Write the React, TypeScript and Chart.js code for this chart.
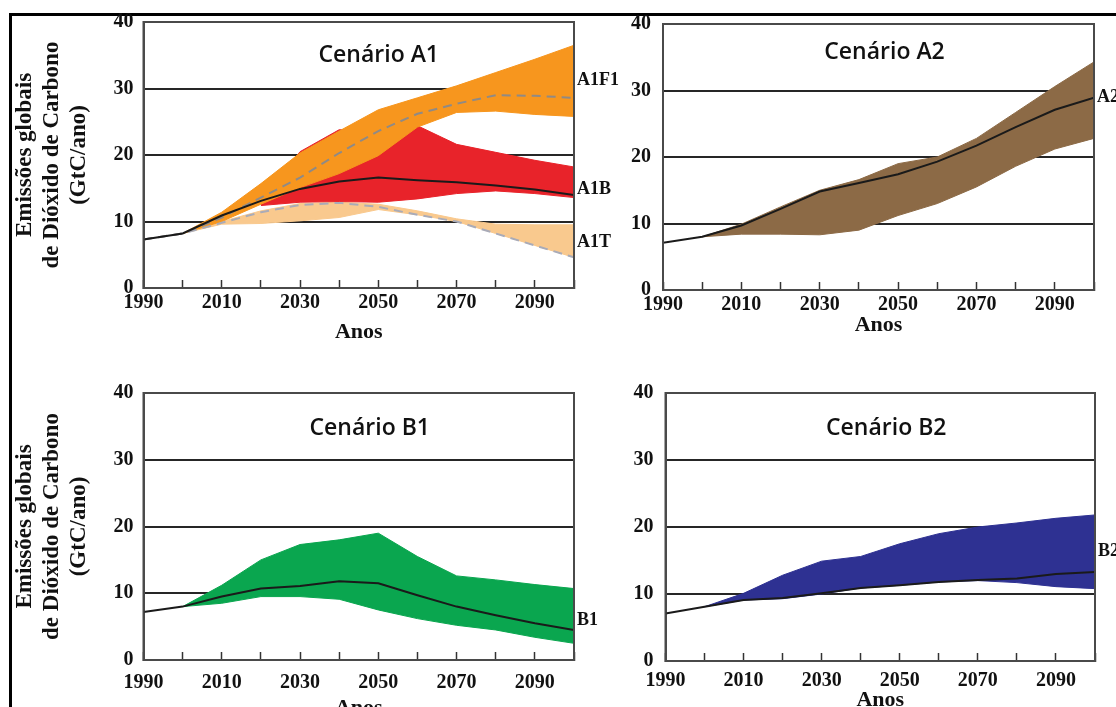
import React, { useEffect, useRef } from 'react';
import { Chart, registerables } from 'chart.js';

Chart.register(...registerables);

// ---------- data ----------
const years = [1990, 2000, 2010, 2020, 2030, 2040, 2050, 2060, 2070, 2080, 2090, 2100];
const yearTickLabels = ['1990', '2010', '2030', '2050', '2070', '2090'];
const yAxisTitle = ['Emissões globais', 'de Dióxido de Carbono', '(GtC/ano)'];
const xAxisTitle = 'Anos';

// Cenário A1
const a1fiUpper = [null, 8.2, 11.4, 15.7, 20.3, 23.6, 26.8, 28.6, 30.4, 32.4, 34.4, 36.5];
const a1fiLower = [null, 8.2, 10.0, 12.6, 15.1, 17.2, 19.9, 24.2, 26.4, 26.6, 26.1, 25.8];
const a1fiMedian = [7.3, 8.2, 10.6, 13.6, 16.6, 20.3, 23.6, 26.2, 27.7, 29.0, 28.9, 28.6];
const a1bUpper = [null, null, null, 12.6, 20.5, 23.8, 23.5, 24.4, 21.6, 20.4, 19.2, 18.2];
const a1bLower = [null, null, null, 12.4, 12.9, 13.0, 12.9, 13.4, 14.2, 14.6, 14.2, 13.6];
const a1bMedian = [7.3, 8.2, 10.9, 13.1, 14.9, 16.0, 16.6, 16.2, 15.9, 15.4, 14.8, 14.0];
const a1tUpper = [null, 8.2, 10.0, 11.6, 12.7, 12.9, 12.6, 11.6, 10.4, 9.6, 9.5, 9.5];
const a1tLower = [null, 8.2, 9.6, 9.7, 10.1, 10.6, 11.8, 11.0, 10.0, 8.2, 6.4, 4.6];
const a1tMedian = [7.3, 8.2, 9.8, 11.4, 12.5, 12.8, 12.2, 11.0, 10.0, 8.2, 6.4, 4.6];
const a1LabelNames = ['A1F1', 'A1B', 'A1T'];
const a1LabelValues = [31.3, 14.9, 6.9];

// Cenário A2
const a2Upper = [null, 8.0, 9.9, 12.5, 15.0, 16.6, 19.0, 20.0, 22.8, 26.7, 30.6, 34.3];
const a2Lower = [null, 8.0, 8.4, 8.4, 8.3, 9.0, 11.2, 13.0, 15.5, 18.6, 21.2, 22.8];
const a2Median = [7.1, 8.0, 9.7, 12.2, 14.8, 16.1, 17.4, 19.3, 21.7, 24.5, 27.1, 28.9];
const a2LabelNames = ['A2'];
const a2LabelValues = [28.9];

// Cenário B1
const b1Upper = [null, 8.0, 11.2, 15.0, 17.3, 18.0, 19.0, 15.5, 12.6, 12.0, 11.3, 10.7];
const b1Lower = [null, 8.0, 8.5, 9.5, 9.5, 9.1, 7.5, 6.2, 5.2, 4.5, 3.4, 2.5];
const b1Median = [7.2, 8.0, 9.5, 10.7, 11.1, 11.8, 11.5, 9.7, 8.0, 6.7, 5.5, 4.5];
const b1LabelNames = ['B1'];
const b1LabelValues = [6.0];

// Cenário B2
const b2Upper = [null, 8.1, 10.1, 12.8, 14.9, 15.6, 17.5, 19.0, 20.0, 20.6, 21.3, 21.8];
const b2Lower = [null, 8.1, 9.1, 9.3, 10.0, 10.9, 11.3, 11.8, 12.0, 11.7, 11.1, 10.8];
const b2Median = [7.1, 8.1, 9.1, 9.4, 10.1, 10.9, 11.3, 11.8, 12.1, 12.3, 13.0, 13.3];
const b2LabelNames = ['B2'];
const b2LabelValues = [16.3];

// ---------- styles ----------
const SERIF = '"Liberation Serif", "Times New Roman", serif';
const SANS = '"Open Sans", "Noto Sans", sans-serif';
const GRID = '#262626';
const BOX = '#4a4a4a';
const TEXT = '#111111';
const ORANGE = '#F7961E';
const RED = '#E8232A';
const TAN = '#F9C98E';
const BROWN = '#8C6A46';
const GREEN = '#0AA64F';
const BLUE = '#2E3192';
const DARK_LINE = '#1a1a1a';

type Val = number | null;

function toPoints(values: Val[]) {
  const pts: { x: number; y: number }[] = [];
  years.forEach((x, i) => {
    const v = values[i];
    if (v !== null && v !== undefined) pts.push({ x, y: v });
  });
  return pts;
}

function band(upper: Val[], lower: Val[], color: string, order: number) {
  return [
    {
      data: toPoints(upper),
      fill: '+1',
      backgroundColor: color,
      borderColor: color,
      borderWidth: 1,
      pointRadius: 0,
      tension: 0,
      order,
    },
    {
      data: toPoints(lower),
      fill: false,
      backgroundColor: color,
      borderColor: color,
      borderWidth: 1,
      pointRadius: 0,
      tension: 0,
      order,
    },
  ];
}

function line(values: Val[], color: string, dash: number[], order: number) {
  return {
    data: toPoints(values),
    fill: false,
    borderColor: color,
    borderWidth: 2,
    borderDash: dash,
    pointRadius: 0,
    tension: 0,
    order,
  };
}

type Panel = {
  key: string;
  left: number;
  top: number;
  width: number;
  height: number;
  yWidth: number;
  padRight: number;
  padTop: number;
  xHeight: number;
  tickPad: number;
  anosPad: number;
  yPad: number;
  yTitle: boolean;
  title: string;
  titleDx: number;
  titleDy: number;
  labelNames: string[];
  labelValues: number[];
  datasets: any[];
};

const panels: Panel[] = [
  {
    key: 'A1', left: 0, top: 0, width: 630, height: 360,
    yWidth: 143.5, padRight: 56, padTop: 20, xHeight: 72,
    tickPad: 11, anosPad: 14.8, yPad: 10, yTitle: true,
    title: 'Cenário A1', titleDx: 20, titleDy: 33,
    labelNames: a1LabelNames, labelValues: a1LabelValues,
    datasets: [
      ...band(a1tUpper, a1tLower, TAN, 10),
      ...band(a1bUpper, a1bLower, RED, 9),
      ...band(a1fiUpper, a1fiLower, ORANGE, 8),
      line(a1tMedian, '#a9abb8', [9, 6], 3),
      line(a1fiMedian, '#8f8a86', [9, 6], 2),
      line(a1bMedian, DARK_LINE, [], 1),
    ],
  },
  {
    key: 'A2', left: 630, top: 0, width: 486, height: 360,
    yWidth: 33, padRight: 22, padTop: 24, xHeight: 70,
    tickPad: 10.5, anosPad: 21.8, yPad: 12, yTitle: false,
    title: 'Cenário A2', titleDx: 6, titleDy: 28,
    labelNames: a2LabelNames, labelValues: a2LabelValues,
    datasets: [
      ...band(a2Upper, a2Lower, BROWN, 8),
      line(a2Median, DARK_LINE, [], 1),
    ],
  },
  {
    key: 'B1', left: 0, top: 360, width: 630, height: 380,
    yWidth: 143.5, padRight: 56, padTop: 33, xHeight: 80,
    tickPad: 19, anosPad: 18.8, yPad: 10, yTitle: true,
    title: 'Cenário B1', titleDx: 11, titleDy: 35,
    labelNames: b1LabelNames, labelValues: b1LabelValues,
    datasets: [
      ...band(b1Upper, b1Lower, GREEN, 8),
      line(b1Median, DARK_LINE, [], 1),
    ],
  },
  {
    key: 'B2', left: 630, top: 360, width: 486, height: 380,
    yWidth: 35, padRight: 21, padTop: 33, xHeight: 79,
    tickPad: 15.5, anosPad: 26.8, yPad: 12, yTitle: false,
    title: 'Cenário B2', titleDx: 6, titleDy: 35,
    labelNames: b2LabelNames, labelValues: b2LabelValues,
    datasets: [
      ...band(b2Upper, b2Lower, BLUE, 8),
      line(b2Median, DARK_LINE, [], 1),
    ],
  },
];

function decorPlugin(p: Panel) {
  return {
    id: 'panelDecor' + p.key,
    afterDraw(chart: any) {
      const { ctx, chartArea: a, scales } = chart;
      ctx.save();
      ctx.strokeStyle = BOX;
      ctx.lineWidth = 2;
      ctx.strokeRect(a.left, a.top, a.right - a.left, a.bottom - a.top);

      ctx.fillStyle = TEXT;
      ctx.font = `600 23px ${SANS}`;
      ctx.textAlign = 'center';
      ctx.textBaseline = 'middle';
      ctx.fillText(p.title, (a.left + a.right) / 2 + p.titleDx, a.top + p.titleDy);

      ctx.font = `bold 18px ${SERIF}`;
      ctx.textAlign = 'left';
      p.labelNames.forEach((name, i) => {
        ctx.fillText(name, a.right + 3, scales.y.getPixelForValue(p.labelValues[i]));
      });
      ctx.restore();
    },
  };
}

function PanelChart({ p }: { p: Panel }) {
  const ref = useRef<HTMLCanvasElement | null>(null);
  useEffect(() => {
    if (!ref.current) return;
    const chart = new Chart(ref.current, {
      type: 'line',
      data: { datasets: p.datasets },
      options: {
        animation: false,
        responsive: false,
        devicePixelRatio: 1,
        events: [],
        layout: { padding: { left: 0, right: p.padRight, top: p.padTop, bottom: 0 } },
        plugins: { legend: { display: false }, tooltip: { enabled: false }, title: { display: false } },
        scales: {
          x: {
            type: 'linear',
            min: 1990,
            max: 2100,
            z: 1,
            afterFit: (s: any) => { s.height = p.xHeight; },
            grid: { drawOnChartArea: false, drawTicks: true, tickLength: -8, tickColor: '#333', tickWidth: 1.5 },
            border: { display: true, color: BOX, width: 2 },
            ticks: {
              stepSize: 10,
              autoSkip: false,
              maxRotation: 0,
              minRotation: 0,
              padding: p.tickPad,
              color: TEXT,
              font: { family: SERIF, size: 20, weight: 'bold', lineHeight: 1.2 },
              callback: (v: any) => (yearTickLabels.includes(String(v)) ? String(v) : ''),
            },
            title: {
              display: true,
              text: xAxisTitle,
              color: TEXT,
              font: { family: SERIF, size: 22, weight: 'bold', lineHeight: 1.2 },
              padding: { top: 0, bottom: p.anosPad },
            },
          },
          y: {
            type: 'linear',
            min: 0,
            max: 40,
            z: 1,
            afterFit: (s: any) => { s.width = p.yWidth; },
            grid: { color: GRID, lineWidth: 2, drawTicks: false },
            border: { display: true, color: BOX, width: 2 },
            ticks: {
              stepSize: 10,
              padding: p.yPad,
              color: TEXT,
              font: { family: SERIF, size: 20, weight: 'bold', lineHeight: 1.2 },
            },
            title: {
              display: p.yTitle,
              text: yAxisTitle,
              color: TEXT,
              font: { family: SERIF, size: 23, weight: 'bold', lineHeight: 27 / 23 },
              padding: { top: 12, bottom: 0 },
            },
          },
        },
      } as any,
      plugins: [decorPlugin(p)],
    });
    return () => chart.destroy();
  }, [p]);
  return (
    <canvas
      ref={ref}
      width={p.width}
      height={p.height}
      style={{ position: 'absolute', left: p.left, top: p.top, width: p.width, height: p.height }}
    />
  );
}

export default function App() {
  return (
    <div style={{ position: 'fixed', left: 0, top: 0, width: 1116, height: 707, overflow: 'hidden', background: '#fff' }}>
      <div
        style={{
          position: 'absolute', left: 9, top: 13, width: 2000, height: 2000,
          borderTop: '3px solid #000', borderLeft: '3px solid #000',
        }}
      />
      {panels.map((p) => (
        <PanelChart key={p.key} p={p} />
      ))}
    </div>
  );
}
